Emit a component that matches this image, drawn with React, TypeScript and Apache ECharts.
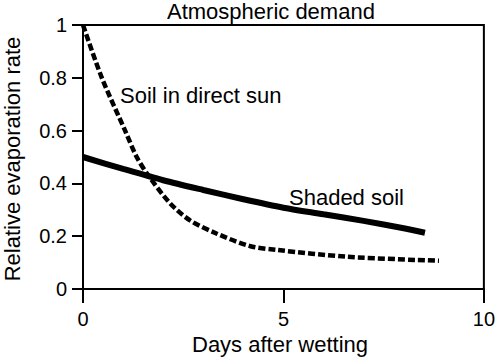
import React, { useEffect, useRef } from "react";
import * as echarts from "echarts";

const titleText = "Atmospheric demand";
const xAxisTitle = "Days after wetting";
const yAxisTitle = "Relative evaporation rate";
const sunLabel = "Soil in direct sun";
const shadeLabel = "Shaded soil";

const sunDays = [0, 0.47, 1.05, 1.34, 1.63, 2.17, 2.67, 3.33, 4.16, 4.83, 6.6, 8.88];
const sunRate = [1.0, 0.8, 0.6, 0.5, 0.43, 0.325, 0.26, 0.21, 0.163, 0.148, 0.122, 0.107];

const shadeDays = [0, 1, 2, 3, 4, 5, 6, 7, 8, 8.53];
const shadeRate = [0.5, 0.455, 0.412, 0.375, 0.34, 0.308, 0.283, 0.258, 0.23, 0.213];

const FONT = "'Liberation Sans', Arial, Helvetica, sans-serif";

export default function App() {
  const ref = useRef<HTMLDivElement>(null);
  useEffect(() => {
    if (!ref.current) return;
    const chart = echarts.init(ref.current, null, { renderer: "svg" });
    const sunData = sunDays.map((d, i) => [d, sunRate[i]]);
    const shadeData = shadeDays.map((d, i) => [d, shadeRate[i]]);
    chart.setOption({
      animation: false,
      backgroundColor: "#fff",
      grid: {
        left: 83,
        right: 14,
        top: 25,
        bottom: 72,
        show: true,
        borderColor: "#000",
        borderWidth: 2,
      },
      xAxis: {
        type: "value",
        min: 0,
        max: 10,
        interval: 5,
        axisLine: { show: true, onZero: false, lineStyle: { color: "#000", width: 2 } },
        axisTick: { show: true, length: 14, lineStyle: { color: "#000", width: 2 } },
        axisLabel: { color: "#000", fontSize: 20, fontFamily: FONT, margin: 20 },
        splitLine: { show: false },
      },
      yAxis: {
        type: "value",
        min: 0,
        max: 1,
        interval: 0.2,
        axisLine: { show: true, lineStyle: { color: "#000", width: 2 } },
        axisTick: { show: true, length: 11, lineStyle: { color: "#000", width: 2 } },
        axisLabel: { color: "#000", fontSize: 20, fontFamily: FONT, margin: 16 },
        splitLine: { show: false },
      },
      graphic: [
        {
          type: "text",
          left: 167,
          top: 0,
          style: { text: titleText, fill: "#000", font: `22px ${FONT}` },
        },
        {
          type: "text",
          x: 192,
          y: 344,
          style: { text: xAxisTitle, fill: "#000", font: `22px ${FONT}`, verticalAlign: "middle", align: "left" },
        },
        {
          type: "text",
          x: 12.5,
          y: 159,
          rotation: Math.PI / 2,
          style: { text: yAxisTitle, fill: "#000", font: `22px ${FONT}`, verticalAlign: "middle", align: "center" },
        },
        {
          type: "text",
          x: 120,
          y: 95.6,
          style: { text: sunLabel, fill: "#000", font: `22px ${FONT}`, verticalAlign: "middle", align: "left" },
        },
        {
          type: "text",
          x: 289,
          y: 197.3,
          style: { text: shadeLabel, fill: "#000", font: `22px ${FONT}`, verticalAlign: "middle", align: "left" },
        },
      ],
      series: [
        {
          type: "line",
          data: shadeData,
          smooth: 0.3,
          showSymbol: false,
          symbol: "none",
          lineStyle: { color: "#000", width: 6 },
        },
        {
          type: "line",
          data: sunData,
          smooth: 0.3,
          showSymbol: false,
          symbol: "none",
          lineStyle: { color: "#000", width: 4.5, type: [7, 3] },
        },
      ],
    });
    return () => chart.dispose();
  }, []);
  return <div ref={ref} style={{ width: 498, height: 361, position: "absolute", left: 0, top: 0 }} />;
}
